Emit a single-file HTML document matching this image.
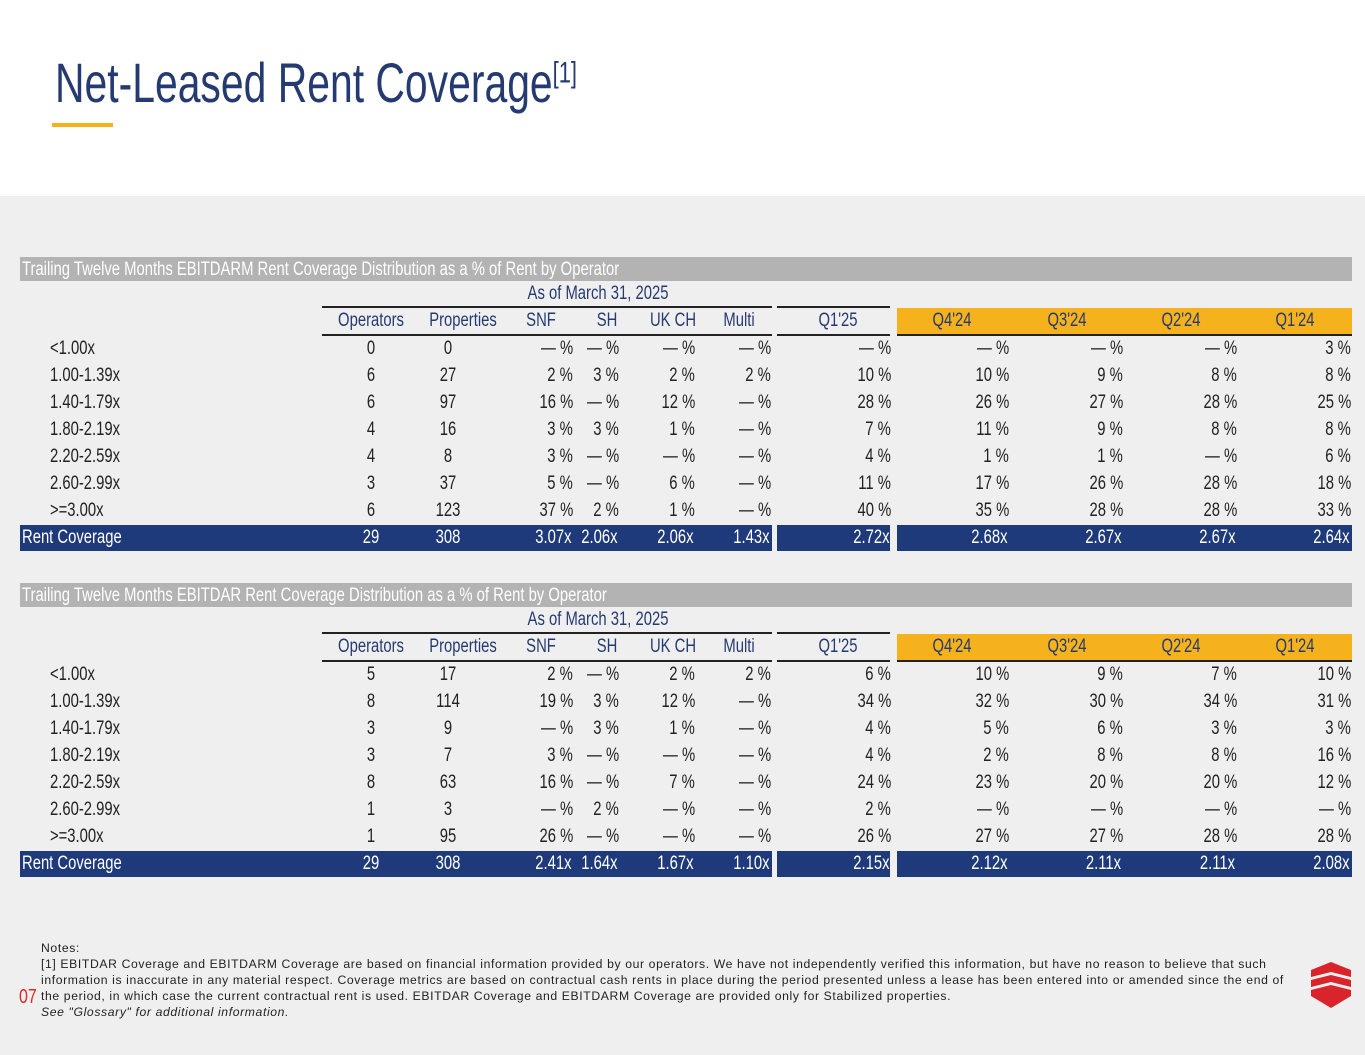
<!DOCTYPE html>
<html><head><meta charset="utf-8">
<style>
body{margin:0;width:1365px;height:1055px;position:relative;background:#fff;font-family:"Liberation Sans Narrow","Liberation Sans",sans-serif;overflow:hidden}
.abs{position:absolute}
.t{position:absolute;white-space:nowrap;font-size:19px;line-height:26px;color:#222}
.r{transform:scaleX(.78);transform-origin:right center}
.l{transform:scaleX(.78);transform-origin:left center}
.c{transform:translateX(-50%) scaleX(.78)}
</style></head><body>
<div class="abs" style="left:55px;top:50px;font-size:56px;color:#253a70;white-space:nowrap;transform:scaleX(.73);transform-origin:left top">Net-Leased Rent Coverage<sup style="font-size:30px">[1]</sup></div>
<div class="abs" style="left:52px;top:123px;width:61px;height:4px;background:#f5b21c"></div>
<div class="abs" style="left:0;top:196px;width:1365px;height:859px;background:#efefef"></div>
<div id="tables"></div>
<div class="abs" style="left:41px;top:940px;white-space:nowrap;font-family:'Liberation Sans',sans-serif;font-size:12.2px;letter-spacing:.62px;line-height:16px;color:#222">Notes:<br>[1] EBITDAR Coverage and EBITDARM Coverage are based on financial information provided by our operators. We have not independently verified this information, but have no reason to believe that such<br>information is inaccurate in any material respect. Coverage metrics are based on contractual cash rents in place during the period presented unless a lease has been entered into or amended since the end of<br>the period, in which case the current contractual rent is used. EBITDAR Coverage and EBITDARM Coverage are provided only for Stabilized properties.<br><i>See "Glossary" for additional information.</i></div>
<div class="abs" style="left:19px;top:986px;font-size:20px;color:#e02a2a;transform:scaleX(.8);transform-origin:left">07</div>
<svg class="abs" style="left:1309px;top:960px" width="44" height="50" viewBox="0 0 44 50">
<polygon points="22,2 42,10 42,17 22,12 2,17 2,10" fill="#d9242b"/>
<polygon points="2,20 22,15 42,20 42,27 22,22 2,27" fill="#d9242b"/>
<polygon points="2,30 22,25 42,30 42,36 22,48 2,36" fill="#d9242b"/>
</svg>
<script>
const rowLabels=["<1.00x","1.00-1.39x","1.40-1.79x","1.80-2.19x","2.20-2.59x","2.60-2.99x",">=3.00x","Rent Coverage"];
const colHeaders=["Operators","Properties","SNF","SH","UK CH","Multi","Q1'25","Q4'24","Q3'24","Q2'24","Q1'24"];
const table1Title="Trailing Twelve Months EBITDARM Rent Coverage Distribution as a % of Rent by Operator";
const table2Title="Trailing Twelve Months EBITDAR Rent Coverage Distribution as a % of Rent by Operator";
const table1Rows=[
["0","0","— %","— %","— %","— %","— %","— %","— %","— %","3 %"],
["6","27","2 %","3 %","2 %","2 %","10 %","10 %","9 %","8 %","8 %"],
["6","97","16 %","— %","12 %","— %","28 %","26 %","27 %","28 %","25 %"],
["4","16","3 %","3 %","1 %","— %","7 %","11 %","9 %","8 %","8 %"],
["4","8","3 %","— %","— %","— %","4 %","1 %","1 %","— %","6 %"],
["3","37","5 %","— %","6 %","— %","11 %","17 %","26 %","28 %","18 %"],
["6","123","37 %","2 %","1 %","— %","40 %","35 %","28 %","28 %","33 %"],
["29","308","3.07x","2.06x","2.06x","1.43x","2.72x","2.68x","2.67x","2.67x","2.64x"]];
const table2Rows=[
["5","17","2 %","— %","2 %","2 %","6 %","10 %","9 %","7 %","10 %"],
["8","114","19 %","3 %","12 %","— %","34 %","32 %","30 %","34 %","31 %"],
["3","9","— %","3 %","1 %","— %","4 %","5 %","6 %","3 %","3 %"],
["3","7","3 %","— %","— %","— %","4 %","2 %","8 %","8 %","16 %"],
["8","63","16 %","— %","7 %","— %","24 %","23 %","20 %","20 %","12 %"],
["1","3","— %","2 %","— %","— %","2 %","— %","— %","— %","— %"],
["1","95","26 %","— %","— %","— %","26 %","27 %","27 %","28 %","28 %"],
["29","308","2.41x","1.64x","1.67x","1.10x","2.15x","2.12x","2.11x","2.11x","2.08x"]];
const hdrX=[371,463,541,607,673,739,838,952,1067,1181,1295];
const valR=[null,null,573,619,695,771,891,1009,1123,1237,1351];
const valC=[371,448];
const root=document.getElementById('tables');
function mk(cls,txt,st){const d=document.createElement('div');d.className=cls;d.textContent=txt;d.style.cssText=st;root.appendChild(d);return d;}
function box(st){const d=document.createElement('div');d.className='abs';d.style.cssText=st;root.appendChild(d);return d;}
function drawTable(title,rows,y0){
 let b=box(`left:20px;top:${y0}px;width:1332px;height:24px;background:#b3b3b3`);
 
 
 let t=mk('t l',title,`left:22px;top:${y0}px;color:#fff;font-size:19px;line-height:25px`);
 
 
 let a=mk('t c','As of March 31, 2025',`left:598px;top:${y0+24}px;color:#253a70`);
 
 
 let g=box(`left:897px;top:${y0+51}px;width:455px;height:27px;background:#f5b21c`);
 
 
 box(`left:322px;top:${y0+49}px;width:450px;height:2px;background:#222`);
 box(`left:322px;top:${y0+77}px;width:450px;height:2px;background:#222`);
 box(`left:777px;top:${y0+49}px;width:113px;height:2px;background:#222`);
 box(`left:777px;top:${y0+77}px;width:113px;height:2px;background:#222`);
 box(`left:897px;top:${y0+77}px;width:455px;height:2px;background:#222`);
 colHeaders.forEach((h,i)=>{
  let e=mk('t c',h,`left:${hdrX[i]}px;top:${y0+51}px;color:#253a70`);
  
  
 });
 rows.forEach((r,ri)=>{
  const y=y0+79+ri*27;
  const last=ri===rows.length-1;
  if(last){
   let n=box(`left:20px;top:${y0+268}px;width:752px;height:26px;background:#1f3a7a`);
   
   
   box(`left:777px;top:${y0+268}px;width:113px;height:26px;background:#1f3a7a`);
   box(`left:897px;top:${y0+268}px;width:455px;height:26px;background:#1f3a7a`);
  }
  const ty=last?y0+268:y;
  const col=last?'#fff':'#222';
  let lb=mk('t l',rowLabels[ri],`left:${last?22:50}px;top:${ty}px;color:${col}`);
  
  
  r.forEach((v,ci)=>{
   let e;
   const rx=last?valR[ci]-2:valR[ci];
   if(ci<2) e=mk('t c',v,`left:${valC[ci]}px;top:${ty}px;color:${col}`);
   else e=mk('t r',v,`right:${1365-rx}px;top:${ty}px;color:${col}`);
   
   
  });
 });
}
drawTable(table1Title,table1Rows,257);
drawTable(table2Title,table2Rows,583);
</script>
</body></html>
